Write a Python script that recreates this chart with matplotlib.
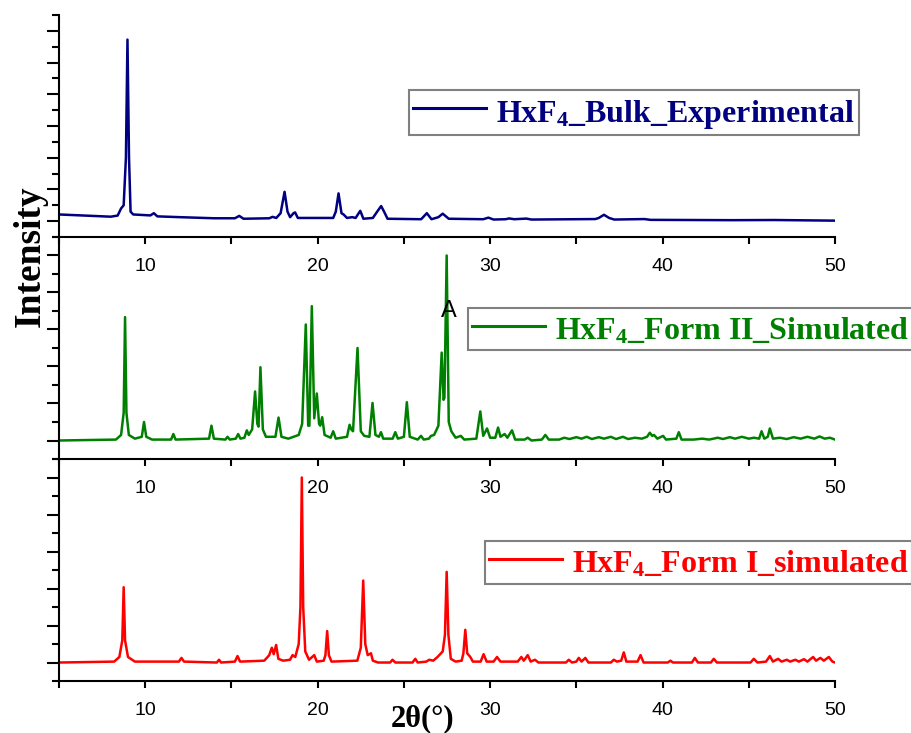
import matplotlib
matplotlib.use("Agg")
import matplotlib.pyplot as plt
from matplotlib.ticker import MultipleLocator

plt.rcParams['mathtext.fontset'] = 'custom'
plt.rcParams['mathtext.rm'] = 'Liberation Serif:bold'
plt.rcParams['mathtext.bf'] = 'Liberation Serif:bold'
plt.rcParams['mathtext.default'] = 'bf'

# traced (2theta, intensity) points, intensity in tick units of each panel
bulk_points = [
    (5.0, 0.42), (6.5, 0.35), (8.0, 0.28), (8.4, 0.35), (8.6, 0.8), (8.75, 1.0),
    (8.88, 4.0), (8.97, 11.45), (9.06, 4.0), (9.15, 0.6), (9.3, 0.42),
    (10.3, 0.36), (10.5, 0.5), (10.7, 0.3), (12.0, 0.25), (14.0, 0.18),
    (15.2, 0.18), (15.45, 0.33), (15.7, 0.15), (17.2, 0.18), (17.38, 0.27),
    (17.6, 0.2), (17.85, 0.5), (18.08, 1.85), (18.25, 0.6), (18.4, 0.25),
    (18.6, 0.5), (18.69, 0.55), (18.85, 0.2), (20.9, 0.2), (21.05, 0.6),
    (21.21, 1.75), (21.38, 0.5), (21.5, 0.42), (21.7, 0.2), (22.0, 0.25),
    (22.2, 0.2), (22.47, 0.65), (22.65, 0.15), (23.2, 0.2), (23.45, 0.6),
    (23.68, 0.95), (23.85, 0.6), (24.05, 0.15), (26.0, 0.12), (26.33, 0.5),
    (26.6, 0.12), (27.0, 0.25), (27.25, 0.47), (27.6, 0.15), (29.6, 0.12),
    (29.9, 0.22), (30.2, 0.1), (30.9, 0.12), (31.1, 0.17), (31.4, 0.12),
    (32.1, 0.16), (32.4, 0.1), (36.1, 0.13), (36.3, 0.2), (36.6, 0.4),
    (36.9, 0.2), (37.2, 0.1), (38.95, 0.13), (39.3, 0.08), (44.0, 0.06),
    (46.5, 0.07), (50.0, 0.03),
]

form2_points = [
    (5.0, 0.0), (8.3, 0.05), (8.6, 0.3), (8.75, 1.5), (8.83, 6.67), (8.91, 1.5),
    (9.05, 0.3), (9.4, 0.1), (9.8, 0.2), (9.93, 1.0), (10.06, 0.2), (10.4, 0.05),
    (11.5, 0.05), (11.63, 0.35), (11.76, 0.05), (13.7, 0.1), (13.84, 0.8),
    (13.98, 0.1), (14.65, 0.05), (14.77, 0.2), (14.9, 0.05), (15.25, 0.1),
    (15.39, 0.35), (15.52, 0.1), (15.75, 0.15), (15.89, 0.55), (16.0, 0.3),
    (16.2, 0.6), (16.37, 2.65), (16.5, 0.9), (16.57, 0.75), (16.68, 3.96),
    (16.82, 0.6), (17.0, 0.2), (17.55, 0.2), (17.73, 1.24), (17.9, 0.2),
    (18.3, 0.1), (18.9, 0.3), (19.1, 0.9), (19.31, 6.27), (19.45, 0.8),
    (19.52, 0.8), (19.66, 7.26), (19.8, 1.2), (19.95, 2.54), (20.08, 0.9),
    (20.15, 0.8), (20.26, 1.26), (20.4, 0.3), (20.75, 0.15), (20.9, 0.5),
    (21.05, 0.1), (21.7, 0.2), (21.85, 0.85), (21.95, 0.6), (22.05, 0.5),
    (22.31, 5.0), (22.5, 0.5), (22.7, 0.25), (23.0, 0.2), (23.18, 2.03),
    (23.35, 0.3), (23.55, 0.2), (23.67, 0.45), (23.8, 0.1), (24.35, 0.1),
    (24.5, 0.45), (24.65, 0.1), (25.0, 0.2), (25.17, 2.07), (25.34, 0.2),
    (25.8, 0.05), (25.99, 0.25), (26.15, 0.05), (26.45, 0.1), (26.57, 0.25),
    (26.75, 0.3), (27.0, 0.8), (27.19, 4.75), (27.3, 2.2), (27.35, 2.3),
    (27.48, 10.0), (27.6, 1.0), (27.75, 0.5), (28.0, 0.15), (28.3, 0.25),
    (28.5, 0.05), (29.2, 0.1), (29.43, 1.57), (29.6, 0.25), (29.82, 0.65),
    (30.0, 0.15), (30.3, 0.15), (30.46, 0.7), (30.6, 0.2), (30.84, 0.35),
    (31.0, 0.15), (31.27, 0.55), (31.45, 0.05), (32.0, 0.05), (32.18, 0.15),
    (32.4, 0.0), (33.0, 0.05), (33.2, 0.3), (33.4, 0.05), (34.0, 0.05),
    (34.3, 0.15), (34.6, 0.08), (35.0, 0.18), (35.3, 0.1), (35.6, 0.2),
    (35.9, 0.08), (36.3, 0.18), (36.6, 0.1), (37.0, 0.2), (37.3, 0.08),
    (37.7, 0.2), (38.0, 0.08), (38.4, 0.15), (38.8, 0.1), (39.1, 0.2),
    (39.26, 0.42), (39.4, 0.25), (39.5, 0.3), (39.7, 0.1), (40.03, 0.25),
    (40.2, 0.05), (40.8, 0.1), (40.94, 0.45), (41.1, 0.05), (41.8, 0.05),
    (42.3, 0.1), (42.7, 0.05), (43.2, 0.15), (43.5, 0.08), (43.9, 0.18),
    (44.2, 0.1), (44.6, 0.2), (45.0, 0.1), (45.3, 0.15), (45.6, 0.1),
    (45.74, 0.5), (45.9, 0.1), (46.1, 0.2), (46.22, 0.65), (46.4, 0.1),
    (46.8, 0.15), (47.2, 0.08), (47.6, 0.18), (48.0, 0.1), (48.4, 0.2),
    (48.8, 0.1), (49.1, 0.22), (49.4, 0.1), (49.7, 0.15), (50.0, 0.05),
]

form1_points = [
    (5.0, 0.0), (8.2, 0.05), (8.5, 0.3), (8.67, 1.2), (8.75, 4.07), (8.83, 1.2),
    (9.0, 0.3), (9.4, 0.05), (11.95, 0.05), (12.1, 0.25), (12.25, 0.05),
    (14.15, 0.0), (14.28, 0.15), (14.4, 0.0), (15.2, 0.05), (15.35, 0.35),
    (15.5, 0.05), (16.9, 0.1), (17.1, 0.3), (17.19, 0.4), (17.34, 0.8),
    (17.45, 0.45), (17.59, 0.95), (17.72, 0.2), (18.0, 0.1), (18.4, 0.15),
    (18.54, 0.4), (18.7, 0.3), (18.9, 1.0), (19.0, 3.0), (19.08, 10.0),
    (19.16, 3.0), (19.28, 0.6), (19.5, 0.15), (19.8, 0.4), (19.95, 0.05),
    (20.35, 0.1), (20.45, 0.4), (20.55, 1.7), (20.65, 0.4), (20.8, 0.05),
    (22.3, 0.1), (22.5, 0.8), (22.64, 4.43), (22.76, 1.0), (22.9, 0.4),
    (23.09, 0.5), (23.2, 0.1), (23.5, 0.0), (24.2, 0.0), (24.34, 0.15),
    (24.5, 0.0), (25.5, 0.0), (25.66, 0.2), (25.8, 0.0), (26.3, 0.05),
    (26.47, 0.15), (26.7, 0.1), (26.95, 0.3), (27.05, 0.4), (27.25, 0.6),
    (27.38, 1.5), (27.48, 4.9), (27.58, 1.5), (27.72, 0.2), (28.0, 0.05),
    (28.35, 0.1), (28.45, 0.5), (28.56, 1.77), (28.67, 0.5), (28.85, 0.3),
    (29.0, 0.05), (29.45, 0.05), (29.62, 0.45), (29.8, 0.05), (30.2, 0.05),
    (30.4, 0.3), (30.6, 0.05), (31.6, 0.05), (31.81, 0.3), (31.95, 0.1),
    (32.18, 0.4), (32.35, 0.05), (32.6, 0.15), (32.8, 0.0), (34.4, 0.0),
    (34.56, 0.15), (34.75, 0.0), (35.0, 0.05), (35.14, 0.25), (35.3, 0.05),
    (35.52, 0.25), (35.7, 0.0), (37.0, 0.0), (37.17, 0.15), (37.35, 0.05),
    (37.6, 0.1), (37.75, 0.55), (37.9, 0.05), (38.55, 0.05), (38.72, 0.4),
    (38.9, 0.0), (40.3, 0.0), (40.46, 0.1), (40.6, 0.0), (41.7, 0.0),
    (41.87, 0.25), (42.05, 0.0), (42.8, 0.0), (42.97, 0.2), (43.15, 0.0),
    (45.1, 0.0), (45.29, 0.2), (45.5, 0.0), (46.0, 0.05), (46.22, 0.35),
    (46.4, 0.05), (46.7, 0.2), (46.9, 0.05), (47.2, 0.15), (47.4, 0.05),
    (47.7, 0.15), (47.9, 0.05), (48.2, 0.18), (48.4, 0.05), (48.73, 0.3),
    (48.9, 0.1), (49.15, 0.25), (49.35, 0.1), (49.64, 0.3), (49.85, 0.05),
    (50.0, 0.0),
]

labels = [r'HxF$_4$_Bulk_Experimental', r'HxF$_4$_Form II_Simulated',
          r'HxF$_4$_Form I_simulated']
colors = ['#000080', '#008000', '#ff0000']
x_ticks = [10, 20, 30, 40, 50]

fig = plt.figure(figsize=(9.12, 7.33), dpi=100)

# panel boxes in figure fractions: left, bottom, width, height
boxes = [(0.0647, 0.6767, 0.8509, 0.3028),
         (0.0647, 0.3738, 0.8509, 0.3029),
         (0.0647, 0.0709, 0.8509, 0.3029)]
ylims = [(-1, 13), (-1, 11), (-1, 11)]
legend_pos = [(0.695, 0.8465), (0.757, 0.551), (0.766, 0.2326)]
series = [bulk_points, form2_points, form1_points]

for box, pts, lab, col, yl, lp in zip(boxes, series, labels, colors, ylims, legend_pos):
    ax = fig.add_axes(box)
    xs = [p[0] for p in pts]
    ys = [p[1] for p in pts]
    ax.plot(xs, ys, color=col, lw=1.8, label=lab, solid_joinstyle='round')
    ax.set_xlim(5, 50)
    ax.set_ylim(*yl)
    for s in ['top', 'right']:
        ax.spines[s].set_visible(False)
    for s in ['left', 'bottom']:
        ax.spines[s].set_linewidth(1.5)
    ax.set_xticks(x_ticks)
    ax.xaxis.set_minor_locator(MultipleLocator(5))
    ax.yaxis.set_major_locator(MultipleLocator(2))
    ax.yaxis.set_minor_locator(MultipleLocator(1))
    ax.set_yticklabels([])
    ax.tick_params(axis='x', which='both', direction='out', length=5, width=1.5,
                   pad=10, labelsize=14)
    ax.tick_params(axis='y', which='major', direction='out', length=9, width=1.5)
    ax.tick_params(axis='y', which='minor', direction='out', length=5, width=1.5)
    for t in ax.get_xticklabels():
        t.set_fontfamily('Liberation Sans')
    ax.patch.set_alpha(0)
    leg = ax.legend(loc='center', bbox_to_anchor=lp, bbox_transform=fig.transFigure,
                    frameon=True, fancybox=False, framealpha=1, borderaxespad=0,
                    handlelength=2.3, handleheight=1.25, handletextpad=0.3,
                    borderpad=0.12, labelcolor='linecolor',
                    prop={'family': 'Liberation Serif', 'weight': 'bold', 'size': 23})
    leg.get_frame().set_edgecolor('#808080')
    leg.get_frame().set_linewidth(1.5)
    for h in leg.get_lines():
        h.set_linewidth(2.2)
    if col == '#008000':
        ax.text(27.58, 7.0, 'A', ha='center', va='center', fontsize=17,
                family='Liberation Sans', color='black')

fig.text(0.033, 0.65, 'Intensity', rotation=90, ha='center', va='center',
         family='Liberation Serif', weight='bold', fontsize=27)
fig.text(0.463, 0.02, '2θ(°)', ha='center', va='center',
         family='Liberation Serif', weight='bold', fontsize=22)

fig.savefig('out.png', dpi=100)
